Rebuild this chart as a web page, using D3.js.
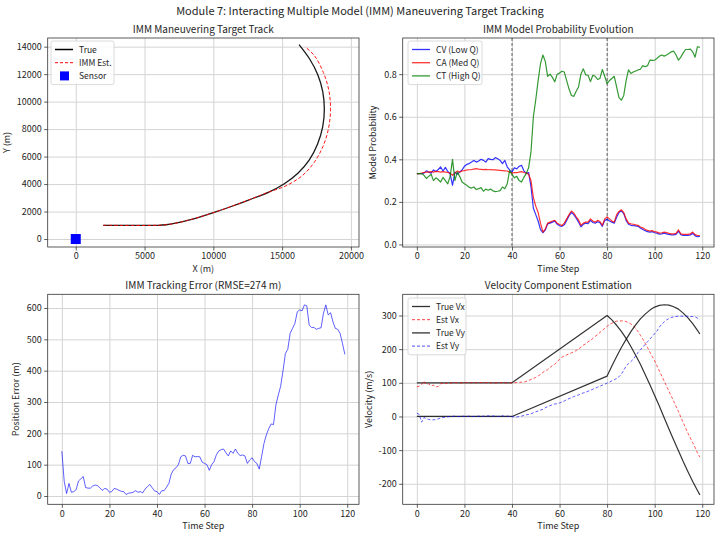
<!DOCTYPE html>
<html>
<head>
<meta charset="utf-8">
<script src="https://cdn.jsdelivr.net/npm/d3@7"></script>
<style>
  body { margin: 0; background: #fff; }
  svg text { font-family: "Noto Sans CJK SC", "Noto Sans", sans-serif; fill: #262626; }
</style>
</head>
<body>
<svg id="fig" width="720" height="538"></svg>
<script>
// ---- data ----
var timeSteps = d3.range(120);

var probCV = [.333,.333,.333,.335,.346,.34,.335,.35,.343,.352,.364,.345,.362,.343,.332,.278,.34,.33,.34,.35,
  .367,.376,.38,.387,.395,.387,.392,.40,.395,.387,.403,.40,.398,.408,.403,.395,.38,.395,.364,.35,
  .34,.36,.355,.367,.372,.346,.334,.338,.27,.17,.14,.11,.07,.055,.068,.097,.10,.105,.11,.095,
  .088,.085,.092,.113,.135,.15,.14,.123,.105,.083,.095,.10,.098,.113,.103,.10,.107,.102,.085,.113,
  .118,.11,.105,.10,.128,.15,.158,.145,.113,.095,.09,.088,.087,.085,.077,.07,.065,.06,.058,.06,
  .055,.053,.048,.05,.053,.05,.047,.045,.045,.047,.062,.046,.042,.043,.042,.045,.052,.04,.036,.038];

var probCA = [.333,.333,.335,.338,.34,.34,.342,.34,.343,.342,.34,.342,.34,.338,.335,.325,.335,.345,.34,.345,
  .347,.35,.351,.352,.354,.356,.354,.353,.352,.353,.351,.352,.35,.35,.349,.348,.347,.346,.345,.34,
  .335,.338,.337,.34,.342,.338,.335,.33,.30,.22,.18,.15,.10,.058,.072,.10,.105,.11,.113,.10,
  .094,.089,.10,.12,.14,.157,.147,.13,.115,.09,.10,.105,.105,.12,.11,.105,.113,.108,.09,.12,
  .129,.12,.11,.105,.14,.155,.163,.15,.12,.10,.097,.095,.092,.09,.082,.078,.07,.066,.063,.065,
  .06,.058,.053,.055,.058,.056,.052,.05,.05,.052,.069,.05,.047,.048,.047,.05,.058,.046,.042,.042];

var probCT = [.333,.333,.333,.325,.31,.32,.33,.30,.313,.305,.293,.315,.30,.285,.32,.40,.30,.34,.32,.293,
  .285,.278,.268,.265,.27,.258,.262,.267,.25,.26,.255,.26,.252,.248,.25,.253,.27,.262,.285,.347,
  .33,.313,.32,.30,.293,.315,.333,.36,.436,.60,.68,.77,.85,.89,.86,.79,.80,.785,.764,.80,
  .805,.814,.81,.77,.73,.70,.696,.72,.74,.80,.825,.797,.795,.765,.795,.79,.775,.78,.822,.79,
  .756,.77,.78,.79,.74,.69,.678,.70,.77,.82,.803,.81,.815,.82,.823,.84,.835,.84,.866,.865,
  .866,.875,.885,.89,.885,.89,.897,.905,.908,.89,.866,.88,.90,.916,.916,.918,.905,.88,.929,.926];

var posError = [143,46,8,40,12,14,20,48,55,62,27,25,25,32,35,33,26,18,24,22,
  12,14,24,22,18,15,14,5,9,10,12,17,12,14,10,22,30,37,26,16,
  14,5,17,17,28,40,70,84,90,100,125,130,128,104,104,130,125,126,125,108,
  104,100,82,100,110,132,144,148,150,138,128,144,136,150,136,129,131,128,104,115,
  122,110,104,86,126,168,195,215,230,228,290,322,350,400,455,468,519,535,551,588,
  594,591,610,607,546,538,538,532,535,537,583,610,578,585,556,535,532,519,487,452];

var trueVelSteps = [0,40,80,82,84,86,88,90,92,94,96,98,100,102,104,106,108,110,112,114,116,118,119];
var trueVx = [100,100,300,287,271,253,232,208,182,155,125,94,62,30,-4,-37,-70,-102,-134,-164,-193,-220,-233];
var trueVy = [0,0,120,150,178,205,229,252,272,290,304,316,325,330,332,331,326,319,307,293,276,256,245];

var estVx = [88,90,95,105,95,97,91,93,88,89,97,99,98,100,99,100,101,100,99,100,
  100,101,100,100,101,100,100,101,100,100,101,100,100,99,100,100,101,100,99,100,
  100,100,101,101,102,102,104,107,110,113,116,120,125,131,136,139,146,151,155,162,
  170,176,180,183,186,189,192,196,200,206,212,216,222,226,232,238,243,250,256,262,
  268,273,277,281,283,284,284,284,282,279,275,269,262,252,241,230,218,205,191,178,
  165,150,135,120,105,90,75,60,45,30,15,-2,-18,-34,-50,-64,-78,-92,-108,-121];

var estVy = [10,6,-17,-3,-7,-9,-10,-10,-9,-7,-5,-3,-2,-1,0,0,1,0,0,1,
  0,0,1,0,0,0,1,0,1,0,2,1,1,2,0,1,2,0,1,0,
  -1,-1,-2,0,1,3,5,6,8,11,14,16,19,21,26,29,32,35,37,38,
  40,43,46,50,53,56,59,62,64,67,70,72,75,78,81,84,87,90,93,96,
  99,102,106,109,113,118,126,137,150,157,163,170,180,190,198,206,214,222,230,238,
  246,254,266,274,281,287,291,294,296,297,298,298,298,298,298,297,297,296,292,288];

var trueTrackX = [2000,6000,6562,7250,8062,9000,10062,11250,12562,14000,15135,16150,16980,17580,17950,18070,17954,17594,17002,16230];
var trueTrackY = [1000,1000,1038,1150,1338,1600,1938,2350,2838,3400,4008,4790,5760,6920,8160,9449,10729,11962,13102,14150];
var estTrackX = [2000,6000,6562,7250,8062,9000,10062,11250,12562,14000,15250,16450,17320,17980,18380,18520,18400,18000,17360,16660];
var estTrackY = [1000,1000,1040,1150,1340,1600,1940,2350,2840,3410,3860,4600,5560,6760,8080,9450,10810,12120,13330,14000];
var sensorX = [0], sensorY = [0];

var trackXTicks = [0,5000,10000,15000,20000];
var trackYTicks = [0,2000,4000,6000,8000,10000,12000,14000];
var stepTicks = [0,20,40,60,80,100,120];
var probTicks = [0,0.2,0.4,0.6,0.8];
var errorTicks = [0,100,200,300,400,500,600];
var velTicks = [-200,-100,0,100,200,300];
var maneuverSteps = [40,80];

// ---- drawing ----
var svg = d3.select("#fig");
svg.append("rect").attr("width",720).attr("height",538).attr("fill","#fff");

svg.append("text").attr("x",360).attr("y",15).attr("text-anchor","middle")
  .attr("font-size",11).text("Module 7: Interacting Multiple Model (IMM) Maneuvering Target Tracking");

var clipId = 0;
function panel(o) {
  var x = d3.scaleLinear().domain(o.xd).range([o.left, o.right]);
  var y = d3.scaleLinear().domain(o.yd).range([o.bottom, o.top]);
  var g = svg.append("g");
  var w = o.right - o.left, h = o.bottom - o.top;

  // grid
  g.append("g").attr("transform","translate(0,"+o.bottom+")")
    .call(d3.axisBottom(x).tickValues(o.xt).tickSize(-h).tickFormat(""))
    .call(function(a){ a.select(".domain").remove(); a.selectAll("line").attr("stroke","#d4d4d4").attr("stroke-width",1); });
  g.append("g").attr("transform","translate("+o.left+",0)")
    .call(d3.axisLeft(y).tickValues(o.yt).tickSize(-w).tickFormat(""))
    .call(function(a){ a.select(".domain").remove(); a.selectAll("line").attr("stroke","#d4d4d4").attr("stroke-width",1); });

  // ticks + labels
  g.append("g").attr("transform","translate(0,"+o.bottom+")")
    .call(d3.axisBottom(x).tickValues(o.xt).tickFormat(o.xf).tickSize(3.5).tickPadding(2.5))
    .call(function(a){ a.select(".domain").remove(); a.selectAll("line").attr("stroke","#333").attr("stroke-width",0.8);
      a.selectAll("text").attr("font-size",9).attr("fill","#262626").attr("font-family",null); });
  g.append("g").attr("transform","translate("+o.left+",0)")
    .call(d3.axisLeft(y).tickValues(o.yt).tickFormat(o.yf).tickSize(3.5).tickPadding(2.5))
    .call(function(a){ a.select(".domain").remove(); a.selectAll("line").attr("stroke","#333").attr("stroke-width",0.8);
      a.selectAll("text").attr("font-size",9).attr("fill","#262626").attr("font-family",null); });

  // frame
  g.append("rect").attr("x",o.left).attr("y",o.top).attr("width",w).attr("height",h)
    .attr("fill","none").attr("stroke","#333").attr("stroke-width",0.8);

  // texts
  g.append("text").attr("x",(o.left+o.right)/2).attr("y",o.top-5).attr("text-anchor","middle")
    .attr("font-size",10).text(o.title);
  g.append("text").attr("x",(o.left+o.right)/2).attr("y",o.bottom+25).attr("text-anchor","middle")
    .attr("font-size",9).text(o.xlabel);
  g.append("text").attr("transform","translate("+o.ylx+","+((o.top+o.bottom)/2)+") rotate(-90)")
    .attr("text-anchor","middle").attr("font-size",9).text(o.ylabel);

  var id = "clip" + (clipId++);
  svg.append("clipPath").attr("id",id).append("rect")
    .attr("x",o.left).attr("y",o.top).attr("width",w).attr("height",h);
  var plot = svg.append("g").attr("clip-path","url(#"+id+")");
  return {x:x, y:y, plot:plot};
}

function drawLine(p, xs, ys, color, width, dash, opacity, curve) {
  var pts = xs.map(function(v,i){ return [v, ys[i]]; });
  p.plot.append("path").datum(pts)
    .attr("d", d3.line().x(function(d){ return p.x(d[0]); }).y(function(d){ return p.y(d[1]); }).curve(curve || d3.curveLinear))
    .attr("fill","none").attr("stroke",color).attr("stroke-width",width)
    .attr("stroke-dasharray",dash || null).attr("stroke-opacity",opacity == null ? 1 : opacity)
    .attr("stroke-linejoin","round");
}

function legend(x0, y0, w, items) {
  var h = items.length * 13.2 + 4;
  var g = svg.append("g");
  g.append("rect").attr("x",x0).attr("y",y0).attr("width",w).attr("height",h).attr("rx",2)
    .attr("fill","#fff").attr("fill-opacity",0.85).attr("stroke","#d0d0d0").attr("stroke-width",0.8);
  items.forEach(function(it,i){
    var cy = y0 + 8.5 + i*13.2;
    if (it.square) {
      g.append("rect").attr("x",x0+9).attr("y",cy-4.5).attr("width",9).attr("height",9).attr("fill",it.color);
    } else {
      g.append("line").attr("x1",x0+4).attr("x2",x0+22).attr("y1",cy).attr("y2",cy)
        .attr("stroke",it.color).attr("stroke-width",it.width || 1.3)
        .attr("stroke-dasharray",it.dash || null).attr("stroke-opacity",it.opacity == null ? 1 : it.opacity);
    }
    g.append("text").attr("x",x0+28).attr("y",cy+3).attr("font-size",8.5).text(it.label);
  });
}

// panel 1: track
var p1 = panel({left:47.7,right:359,top:38,bottom:247,xd:[-2040,20590],yd:[-580,14630],
  xt:trackXTicks,yt:trackYTicks,xf:d3.format("d"),yf:d3.format("d"),
  title:"IMM Maneuvering Target Track",xlabel:"X (m)",ylabel:"Y (m)",ylx:10});
drawLine(p1, trueTrackX, trueTrackY, "#000", 1.3, null, 0.9, d3.curveCatmullRom.alpha(0.5));
drawLine(p1, estTrackX, estTrackY, "red", 1, "3.5,2", 0.9, d3.curveCatmullRom.alpha(0.5));
p1.plot.selectAll("rect.sensor").data(sensorX).join("rect").attr("class","sensor")
  .attr("x",function(d){ return p1.x(d)-5; }).attr("y",function(d,i){ return p1.y(sensorY[i])-5; })
  .attr("width",10).attr("height",10).attr("fill","blue");
legend(51, 41, 63, [
  {label:"True", color:"#000", width:1.5},
  {label:"IMM Est.", color:"red", dash:"3,2", width:1},
  {label:"Sensor", color:"blue", square:true}
]);

// panel 2: model probabilities
var p2 = panel({left:402.7,right:714,top:38,bottom:247,xd:[-5.95,124.95],yd:[-0.012,0.97],
  xt:stepTicks,yt:probTicks,xf:d3.format("d"),yf:d3.format(".1f"),
  title:"IMM Model Probability Evolution",xlabel:"Time Step",ylabel:"Model Probability",ylx:376});
maneuverSteps.forEach(function(s){
  p2.plot.append("line").attr("x1",p2.x(s)).attr("x2",p2.x(s)).attr("y1",38).attr("y2",247)
    .attr("stroke","#000").attr("stroke-width",0.8).attr("stroke-dasharray","3,2").attr("stroke-opacity",0.75);
});
drawLine(p2, timeSteps, probCV, "blue", 1.2, null, 0.8);
drawLine(p2, timeSteps, probCA, "red", 1.2, null, 0.8);
drawLine(p2, timeSteps, probCT, "green", 1.2, null, 0.8);
legend(408, 41, 74, [
  {label:"CV (Low Q)", color:"blue", opacity:0.8},
  {label:"CA (Med Q)", color:"red", opacity:0.8},
  {label:"CT (High Q)", color:"green", opacity:0.8}
]);

// panel 3: error
var p3 = panel({left:47.7,right:359,top:294.3,bottom:504.3,xd:[-5.95,124.95],yd:[-26.5,643.8],
  xt:stepTicks,yt:errorTicks,xf:d3.format("d"),yf:d3.format("d"),
  title:"IMM Tracking Error (RMSE=274 m)",xlabel:"Time Step",ylabel:"Position Error (m)",ylx:19});
drawLine(p3, timeSteps, posError, "blue", 0.9, null, 0.7);

// panel 4: velocities
var p4 = panel({left:402.7,right:714,top:294.3,bottom:504.3,xd:[-5.95,124.95],yd:[-261,363],
  xt:stepTicks,yt:velTicks,xf:d3.format("d"),yf:function(d){ return String(d); },
  title:"Velocity Component Estimation",xlabel:"Time Step",ylabel:"Velocity (m/s)",ylx:372});
drawLine(p4, trueVelSteps, trueVx, "#000", 1.2, null, 0.8);
drawLine(p4, timeSteps, estVx, "red", 0.9, "3,2", 0.75);
drawLine(p4, trueVelSteps, trueVy, "#000", 1.2, null, 0.8);
drawLine(p4, timeSteps, estVy, "blue", 0.9, "3,2", 0.7);
legend(408, 298, 58, [
  {label:"True Vx", color:"#000", opacity:0.8},
  {label:"Est Vx", color:"red", dash:"3,2", width:1, opacity:0.75},
  {label:"True Vy", color:"#000", opacity:0.8},
  {label:"Est Vy", color:"blue", dash:"3,2", width:1, opacity:0.7}
]);
</script>
</body>
</html>
